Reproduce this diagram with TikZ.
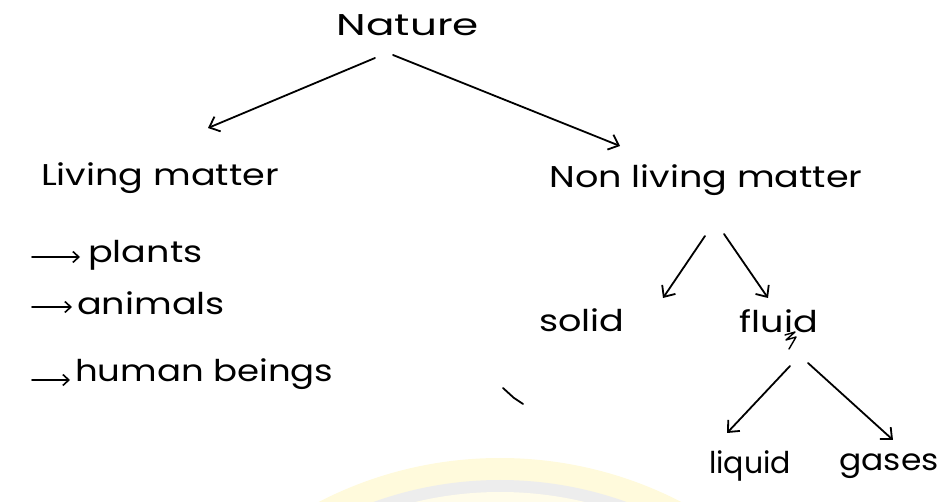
\documentclass[tikz,border=0pt]{standalone}
\usepackage{fontspec}
\setmainfont{Poppins}[FakeStretch=1.22]
\usetikzlibrary{arrows.meta}
\definecolor{wmyellow}{HTML}{FFFADC}
\definecolor{wmgray}{HTML}{EDEDED}
\tikzset{
  label/.style={inner sep=0pt, font=\fontsize{30}{33}\selectfont, anchor=center},
  pen/.style={line width=1.8pt, line cap=round, line join=round},
  branch/.style={pen, -{Straight Barb[length=9pt,width=16pt,line width=1.8pt]}},
  bullet/.style={pen, -{Straight Barb[length=6pt,width=11pt,line width=1.6pt]}},
}
\begin{document}
\begin{tikzpicture}[x=1pt,y=-1pt]
  \useasboundingbox (0,0) rectangle (943,502);
  % faint logo in the background
  \begin{scope}
    \clip (0,0) rectangle (943,502);
    \fill[wmyellow] (500,853) circle (395);
    \fill[wmgray] (500,853) circle (373);
    \fill[wmyellow!60] (500,853) circle (361);
  \end{scope}

  % labels
  \node[label] (nature) at (408,25) {\scalebox{1.15}[1]{Nature}};
  \node[label] (living) at (160,178) {Living matter};
  \node[label] (nonliving) at (706,180) {Non living matter};
  \node[label] (solid) at (582,320) {solid};
  \node[label] (fluid) at (779,321) {fluid};
  \node[label] (liquid) at (750,466) {\scalebox{0.82}[1]{liquid}};
  \node[label] (gases) at (889,466) {\scalebox{0.9}[1]{gases}};

  \node[label, anchor=west] (plants) at (88,255) {plants};
  \node[label, anchor=west] (animals) at (77,303) {animals};
  \node[label, anchor=west] (human) at (75,374) {\scalebox{0.97}[1]{human beings}};

  % connectors
  \coordinate (n1) at (375,58);
  \coordinate (n2) at (393,55);
  \coordinate (m1) at (705,236);
  \coordinate (m2) at (724,234);
  \coordinate (f1) at (790,366);
  \coordinate (f2) at (808,363);
  \draw[branch] (n1) -- (208,128);
  \draw[branch] (n2) -- (620,146);
  \draw[branch] (m1) -- (663,298);
  \draw[branch] (m2) -- (768,298);
  \draw[branch] (f1) -- (727,433);
  \draw[branch] (f2) -- (893,440);

  % bullet arrows
  \coordinate (b1) at (32,257);
  \coordinate (b2) at (32,307);
  \coordinate (b3) at (32,380);
  \coordinate (e1) at (80,257);
  \coordinate (e2) at (72,307);
  \coordinate (e3) at (70,380);
  \draw[bullet] (b1) -- (e1);
  \draw[bullet] (b2) -- (e2);
  \draw[bullet] (b3) -- (e3);

  % correction scribble under fluid and stray pen mark
  \draw[pen, line width=1.4pt] (785,335) -- (795,332) -- (786,340) -- (796,337) -- (789,349);
  \draw[pen] (503,388) -- (514,398) -- (523,404);
\end{tikzpicture}
\end{document}
